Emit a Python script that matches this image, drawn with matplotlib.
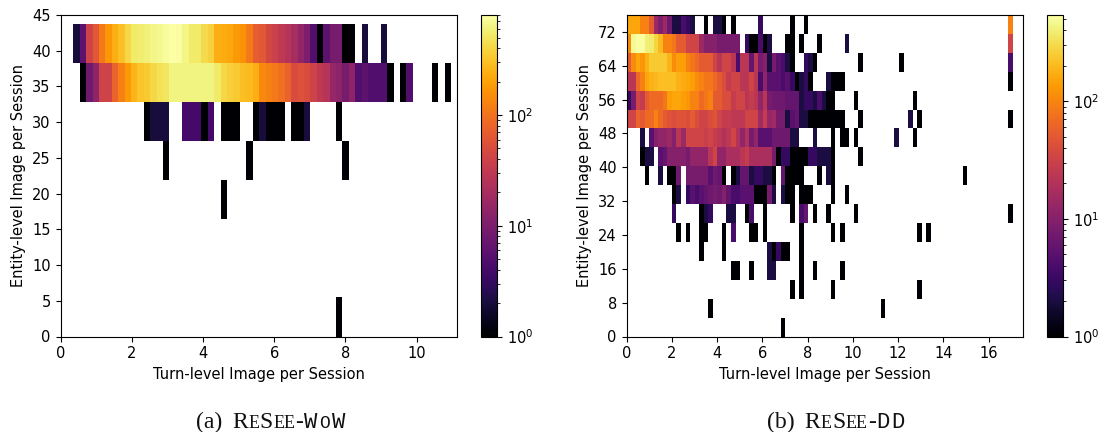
import numpy as np
import matplotlib
matplotlib.use('Agg')
import matplotlib.pyplot as plt
from matplotlib.colors import LogNorm

# ReSee-WoW counts, one list per y bin, from column 0 on
wow_row0 = [0]*41 + [1]
wow_row3 = [0]*23 + [1]
wow_row4 = [0]*14 + [1] + [0]*12 + [1] + [0]*14 + [1]
wow_row5 = [0,0,0,0,0,0,0,0,0,0, 0,1,2,2,2,0,0,4,4,4, 1,4,0,1,1,1,0,0,1,2,
            1,1,1,0,1,1,2,0,0,0, 0,1]
wow_row6 = [0,1,8,13,40,40,77,123,180,260, 315,340,410,470,500,620,620,620,620,620,
            620,620,540,410,370,340,295,280,240,140, 125,110,95,75,50,55,50,40,30,26,
            15,13,9,13,5,6,5,5,5,1, 0,1,5,0,0,0,1,0,1]
wow_row7 = [2,6,40,63,110,170,240,300,411,540, 560,600,640,680,750,780,760,640,540,540,
            430,380,240,230,220,180,160,110,70,63, 45,38,30,26,20,14,10,5,1,6,
            9,9,1,1,0,2,0,0,2]

# ReSee-DD counts
dd_row0 = [0]*34 + [1]
dd_row1 = [0]*18 + [1]
dd_row2 = [0]*36 + [1,0,1] + [0]*6 + [1]
dd_row3 = [0]*23 + [1,1,0,0,1,0,0,0,2,2] + [0]*5 + [1,0,0,1]
dd_row4 = [0]*16 + [1] + [0]*4 + [1] + [0]*9 + [2,1,3,1,1,0,0,1]
dd_row5 = [0,0,0,0,0,0,0,0,0,0, 0,1,0,1,0,0,1,1,0,0, 0,1,0,4,0,0,0,1,1,0,
           1,0,0,0,0,0,0,0,1,0, 0,0,0,0,0,1,0,1]
dd_row6 = [0,0,0,0,0,0,0,0,0,0, 3,0,0,0,0,0,1,2,3,0, 0,0,2,2,0,0,1,4,0,0,
           1,0,0,0,0,0,1,0,4,6, 0,1,0,0,1]
dd_row7 = [0,0,0,0,0,0,0,0,0,0, 1,2,0,3,5,4,5,6,7,8, 7,10,6,4,4,5,5,5,1,1,
           1,8,2,0,2,1,1,0,1,1, 1,0,0,0,0,1,0,0,1]
dd_row8 = [0,0,0,0,1,0,0,2,0,1, 1,7,0,8,8,8,8,8,5,7, 6,1,0,1,2,6,6,2,3,3,
           2,2,1,0,6,1,1,1,1,0, 0,0,1,0,2,1]
dd_row9 = [0,0,0,1,2,2,0,5,6,10, 10,10,10,8,12,12,12,12,23,33, 12,12,18,18,18,23,27,18,18,18,
           18,18,8,1,3,3,1,1,1,1, 3,3,2,2,2,1]
dd_row10 = [0,0,0,2,0,5,10,12,12,14, 10,23,14,33,33,33,33,29,33,27, 24,20,24,33,20,12,20,8,12,5,
            5,5,7,7,7,7,2,2,0,0, 0,2,0,0,0,1,0,1,1]
dd_row11 = [33,33,60,52,68,68,95,68,52,45, 40,45,45,40,52,40,33,33,40,45, 33,27,27,24,24,24,33,33,33,15,
            27,13,15,8,8,2,5,6,2,2, 1,1,1,1,1,1,1,1]
dd_row12 = [3,8,33,27,52,68,68,68,80,140, 155,155,140,125,95,95,68,80,95,52, 52,40,40,27,33,33,23,27,23,12,
            23,8,7,7,7,6,6,6,2,3, 3,2,4,2,1,1]
dd_row13 = [23,23,68,95,155,180,195,210,210,210, 210,180,165,155,140,110,95,80,80,68, 52,40,27,33,33,23,23,33,23,4,
            12,5,5,5,4,5,3,1,2,3, 1,0,0,0,2,1,1,1]
dd_row14 = [52,110,155,125,180,240,240,240,240,180, 110,140,140,95,80,68,52,52,52,33, 23,33,33,23,4,23,23,6,23,8,
            10,2,8,5,4,2,1,0,0,3, 2,1]
dd_row15 = [110,480,520,520,400,380,280,195,95,95, 80,52,52,33,33,33,14,10,10,10, 8,8,8,8,8,0,3,1,1,4,
            1,2,0,0,0,1,1,0,1,0, 0,0,1]
dd_row16 = [155,155,155,95,95,52,14,9,14,7, 2,2,4,3,2,0,0,1,0,2, 2,1,0,1,0,0,0,0,0,3,
            0,0,0,0,0,0,1,0,0,1]
# lone far right bins: (row, column, count)
dd_outliers = [(1,56,1), (2,64,1), (3,47,1), (5,64,1), (5,66,1), (6,50,1), (6,84,1), (8,74,1),
               (9,51,1), (10,50,1), (10,59,2), (10,63,1), (11,51,1), (11,62,2), (11,64,1),
               (11,84,1), (12,50,1), (12,63,1), (13,84,1), (14,51,1), (14,60,1), (14,84,4),
               (15,48,2), (15,84,33), (16,84,95)]

xlabel = 'Turn-level Image per Session'
ylabel = 'Entity-level Image per Session'

FIG_W, FIG_H = 1104, 432


def make_grid(rows, n_cols):
    grid = np.zeros((len(rows), n_cols))
    for i, row in enumerate(rows):
        grid[i, :len(row)] = row
    return grid


def px_axes(fig, left, right, top, bottom):
    return fig.add_axes([left/FIG_W, 1-bottom/FIG_H, (right-left)/FIG_W, (bottom-top)/FIG_H])


def heatmap(fig, grid, xedges, yedges, vmax, box, cbox, xlim, ylim, xticks, yticks):
    ax = px_axes(fig, *box)
    cmap = plt.get_cmap('inferno').copy()
    cmap.set_bad('white')
    mesh = ax.pcolormesh(xedges, yedges, np.ma.masked_equal(grid, 0), cmap=cmap,
                         norm=LogNorm(vmin=1, vmax=vmax), rasterized=True)
    ax.set_xlim(*xlim)
    ax.set_ylim(*ylim)
    ax.set_xticks(xticks)
    ax.set_yticks(yticks)
    ax.tick_params(labelsize=10.5)
    ax.set_xlabel(xlabel, fontsize=10.5, labelpad=4)
    ax.set_ylabel(ylabel, fontsize=10.5, labelpad=4)
    cax = px_axes(fig, *cbox)
    cb = fig.colorbar(mesh, cax=cax)
    cb.ax.tick_params(labelsize=10.5)
    return ax


def caption(fig, x, y, parts):
    # small caps by hand, each piece placed after the one before
    rend = fig.canvas.get_renderer()
    for s, size, fam, gap in parts:
        t = fig.text(x/FIG_W, 1-y/FIG_H, s, fontsize=size, family=fam, va='baseline', color='#111111')
        x = t.get_window_extent(rend).x1 + gap


wow_grid = make_grid([wow_row0, [], [], wow_row3, wow_row4, wow_row5, wow_row6, wow_row7], 59)
dd_grid = make_grid([dd_row0, dd_row1, dd_row2, dd_row3, dd_row4, dd_row5, dd_row6, dd_row7, dd_row8,
                     dd_row9, dd_row10, dd_row11, dd_row12, dd_row13, dd_row14, dd_row15, dd_row16], 85)
for r, c, n in dd_outliers:
    dd_grid[r, c] = n

fig = plt.figure(figsize=(FIG_W/100, FIG_H/100), dpi=100)

heatmap(fig, wow_grid, np.linspace(0.36, 10.97, 60), np.linspace(0, 43.7, 9), 800,
        (60.5, 457, 15, 336.5), (481, 497, 15, 336.5), (0, 11.13), (0, 45),
        range(0, 11, 2), range(0, 46, 5))
heatmap(fig, dd_grid, np.linspace(0, 17.06, 86), np.linspace(0, 76, 18), 540,
        (626.5, 1023, 15, 336.5), (1047, 1063, 15, 336.5), (0, 17.52), (0, 76),
        range(0, 17, 2), range(0, 73, 8))

fig.canvas.draw()
serif = 'Liberation Serif'
mono = 'Liberation Mono'
head = [('R', 17, serif, 0.3), ('E', 13, serif, 0.3), ('S', 17, serif, 0.3), ('EE', 13, serif, 0.3), ('-', 17, serif, 0.5)]
caption(fig, 196, 428, [('(a)', 17, serif, 10)] + head +
        [('W', 16, mono, 2), ('O', 13, mono, 2), ('W', 16, mono, 0)])
caption(fig, 767, 428, [('(b)', 17, serif, 10)] + head + [('D', 16, mono, 2), ('D', 16, mono, 0)])

fig.savefig('out.png', dpi=100)
